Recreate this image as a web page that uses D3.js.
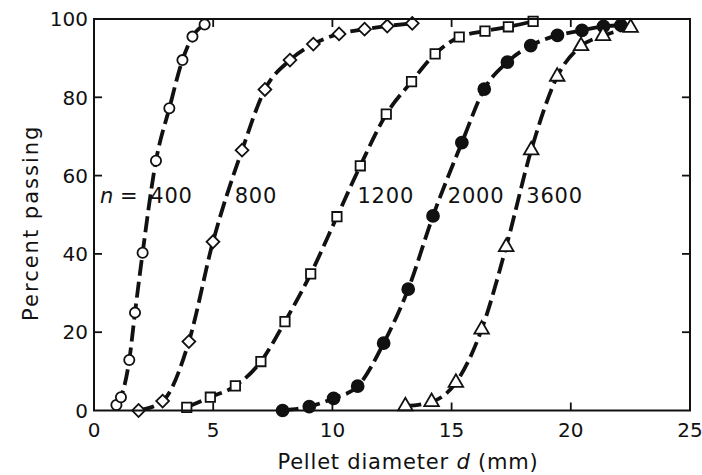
<!DOCTYPE html>
<html>
<head>
<meta charset="utf-8">
<script src="https://cdn.jsdelivr.net/npm/d3@7"></script>
<style>
  html, body { margin: 0; padding: 0; background: #fff; }
  svg text { font-family: "DejaVu Sans", sans-serif; fill: #111; }
</style>
</head>
<body>
<svg id="chart" width="702" height="475"></svg>
<script>
// ---- data ----
const xTicks = [0, 5, 10, 15, 20, 25];
const yTicks = [0, 20, 40, 60, 80, 100];
const seriesNames = ["400", "800", "1200", "2000", "3600"];
const markerTypes = ["circle", "diamond", "square", "dot", "triangle"];

const d400 = [[0.94,1.4],[1.13,3.4],[1.48,12.9],[1.72,25.0],[2.04,40.3],[2.60,63.8],[3.16,77.2],[3.71,89.5],[4.13,95.5],[4.64,98.6]];
const d800 = [[1.87,0.0],[2.88,2.4],[3.98,17.6],[4.99,43.1],[6.21,66.5],[7.17,82.0],[8.22,89.5],[9.20,93.6],[10.28,96.2],[11.35,97.4],[12.30,98.2],[13.35,98.9]];
const d1200 = [[3.89,0.8],[4.88,3.4],[5.93,6.3],[7.00,12.5],[8.01,22.7],[9.09,34.9],[10.19,49.5],[11.17,62.5],[12.26,75.7],[13.32,84.0],[14.31,91.1],[15.32,95.4],[16.40,96.9],[17.38,98.0],[18.42,99.4]];
const d2000 = [[7.91,0.0],[9.03,1.0],[10.05,3.1],[11.06,6.2],[12.15,17.2],[13.18,31.0],[14.22,49.7],[15.43,68.4],[16.37,82.1],[17.34,89.0],[18.32,93.2],[19.44,95.8],[20.47,97.1],[21.37,98.1],[22.10,98.4]];
const d3600 = [[13.06,1.1],[14.16,2.2],[15.18,7.1],[16.26,20.7],[17.29,41.8],[18.34,66.5],[19.43,85.3],[20.43,93.1],[21.35,95.7],[22.51,97.8]];
const seriesData = [d400, d800, d1200, d2000, d3600];
// label anchor positions (data units)
const labelX = [2.36, 5.90, 11.05, 14.84, 18.13];
const labelY = 53;

// ---- layout ----
const svg = d3.select("#chart");
const L = 94, R = 690, T = 19, B = 410.5;
const x = d3.scaleLinear().domain([0, 25]).range([L, R]);
const y = d3.scaleLinear().domain([0, 100]).range([B, T]);

// curves
const line = d3.line().x(d => x(d[0])).y(d => y(d[1])).curve(d3.curveMonotoneX);
const g = svg.append("g");
seriesData.forEach(s => {
  g.append("path").attr("d", line(s))
    .attr("fill", "none").attr("stroke", "#111")
    .attr("stroke-width", 3.8).attr("stroke-dasharray", "16,6")
    .attr("stroke-linecap", "butt");
});

// markers
const sym = {
  circle: d3.symbol().type(d3.symbolCircle).size(82),
  diamond: d3.symbol().type(d3.symbolSquare).size(82),
  square: d3.symbol().type(d3.symbolSquare).size(88),
  dot: d3.symbol().type(d3.symbolCircle).size(112),
  triangle: d3.symbol().type(d3.symbolTriangle).size(92)
};
seriesData.forEach((s, i) => {
  const t = markerTypes[i];
  g.selectAll(null).data(s).enter().append("path")
    .attr("d", sym[t]())
    .attr("transform", d => {
      let tr = `translate(${x(d[0])},${y(d[1])})`;
      if (t === "diamond") tr += " rotate(45)";
      return tr;
    })
    .attr("fill", t === "dot" ? "#111" : "#fff")
    .attr("stroke", "#111").attr("stroke-width", 1.8);
});

// frame
svg.append("rect").attr("x", L).attr("y", T).attr("width", R - L).attr("height", B - T)
  .attr("fill", "none").attr("stroke", "#111").attr("stroke-width", 2);

// ticks (inward)
const tl = 8;
yTicks.slice(1, -1).forEach(v => {
  svg.append("line").attr("x1", L).attr("x2", L + tl).attr("y1", y(v)).attr("y2", y(v)).attr("stroke", "#111").attr("stroke-width", 1.8);
  svg.append("line").attr("x1", R).attr("x2", R - tl).attr("y1", y(v)).attr("y2", y(v)).attr("stroke", "#111").attr("stroke-width", 1.8);
});
xTicks.slice(1, -1).forEach(v => {
  svg.append("line").attr("x1", x(v)).attr("x2", x(v)).attr("y1", B).attr("y2", B - tl).attr("stroke", "#111").attr("stroke-width", 1.8);
  svg.append("line").attr("x1", x(v)).attr("x2", x(v)).attr("y1", T).attr("y2", T + tl).attr("stroke", "#111").attr("stroke-width", 1.8);
});

// tick labels
svg.selectAll(null).data(yTicks).enter().append("text")
  .attr("x", L - 6).attr("y", d => y(d)).attr("dy", "0.36em")
  .attr("text-anchor", "end").attr("font-size", 20).text(d => d);
svg.selectAll(null).data(xTicks).enter().append("text")
  .attr("x", d => x(d)).attr("y", B + 26)
  .attr("text-anchor", "middle").attr("font-size", 20).text(d => d);

// axis titles
svg.append("text").attr("transform", `translate(38,${(T + B) / 2 + 8}) rotate(-90)`)
  .attr("text-anchor", "middle").attr("font-size", 21).attr("letter-spacing", 2).text("Percent passing");
const xt = svg.append("text").attr("x", 408).attr("y", 469).attr("text-anchor", "middle")
  .attr("font-size", 21).attr("letter-spacing", 0.8);
xt.append("tspan").text("Pellet diameter ");
xt.append("tspan").attr("font-style", "italic").text("d");
xt.append("tspan").text(" (mm)");

// series labels
const lab = svg.append("text").attr("x", x(0.25)).attr("y", y(labelY)).attr("font-size", 21);
lab.append("tspan").attr("font-style", "italic").text("n");
lab.append("tspan").text(" =");
seriesNames.forEach((n, i) => {
  svg.append("text").attr("x", x(labelX[i])).attr("y", y(labelY))
    .attr("font-size", 21).attr("letter-spacing", 0.8).text(n);
});
</script>
</body>
</html>
